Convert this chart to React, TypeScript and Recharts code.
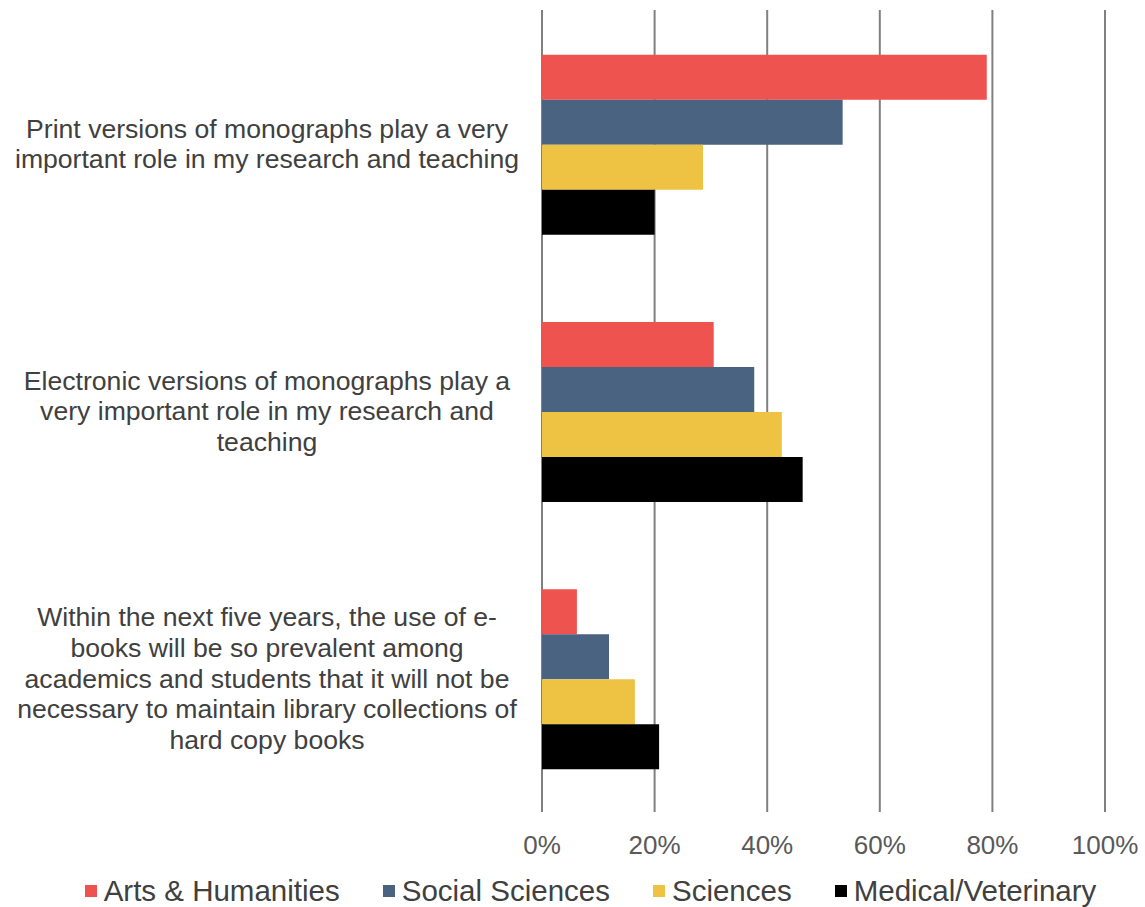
import React from "react";
import { BarChart, Bar, XAxis, YAxis, CartesianGrid, Legend } from "recharts";

const categories: string[][] = [
  ["Print versions of monographs play a very", "important role in my research and teaching"],
  ["Electronic versions of monographs play a", "very important role in my research and", "teaching"],
  [
    "Within the next five years, the use of e-",
    "books will be so prevalent among",
    "academics and students that it will not be",
    "necessary to maintain library collections of",
    "hard copy books",
  ],
];
const artsHumanities = [0.79, 0.305, 0.062];
const socialSciences = [0.534, 0.377, 0.119];
const sciences = [0.286, 0.426, 0.165];
const medicalVeterinary = [0.2, 0.463, 0.208];
const xTicks = [0, 0.2, 0.4, 0.6, 0.8, 1];

const seriesNames = ["Arts & Humanities", "Social Sciences", "Sciences", "Medical/Veterinary"];
const seriesColors = ["#EF5350", "#4A6381", "#EEC344", "#000000"];

const data = categories.map((c, i) => ({
  key: String(i),
  a: artsHumanities[i],
  s: socialSciences[i],
  sc: sciences[i],
  m: medicalVeterinary[i],
}));

const TEXT = "#595959";
const FONT = "'Liberation Sans', Arial, sans-serif";

const YTick = (props: any) => {
  const { y, payload } = props;
  const lines = categories[Number(payload.value)];
  const lh = 30.7;
  const start = y - ((lines.length - 1) * lh) / 2;
  return (
    <text x={267} y={start} textAnchor="middle" fill="#404040" fontSize={26.6} fontFamily={FONT}>
      {lines.map((l, i) => (
        <tspan key={i} x={267} y={start + i * lh} dy="0.35em">
          {l}
        </tspan>
      ))}
    </text>
  );
};

const LegendContent = () => (
  <div
    style={{
      display: "flex",
      justifyContent: "center",
      alignItems: "center",
      fontFamily: FONT,
      fontSize: 29.5,
      color: "#404040",
      paddingLeft: 76,
      height: 57,
    }}
  >
    {seriesNames.map((n, i) => (
      <div key={n} style={{ display: "flex", alignItems: "center", marginRight: i < 3 ? 43 : 0 }}>
        <div style={{ width: 12, height: 12, background: seriesColors[i], marginRight: 7 }} />
        <span>{n}</span>
      </div>
    ))}
  </div>
);

export default function App() {
  return (
    <div style={{ position: "absolute", left: 0, top: 0, width: 1145, height: 907, background: "#fff" }}>
      <BarChart
        width={1145}
        height={907}
        data={data}
        layout="vertical"
        margin={{ top: 10, right: 40, bottom: 0, left: 0 }}
        barCategoryGap="16.7%"
        barGap={0}
      >
        <CartesianGrid horizontal={false} vertical stroke="#808080" strokeWidth={2} />
        <XAxis
          type="number"
          domain={[0, 1]}
          ticks={xTicks}
          tickFormatter={(v: number) => `${Math.round(v * 100)}%`}
          axisLine={false}
          tickLine={false}
          height={50}
          tickMargin={18}
          tick={{ fill: TEXT, fontSize: 26, fontFamily: FONT }}
          interval={0}
        />
        <YAxis
          type="category"
          dataKey="key"
          width={542}
          axisLine={false}
          tickLine={false}
          tick={<YTick />}
          interval={0}
        />
        <Legend verticalAlign="bottom" height={45} content={<LegendContent />} />
        <Bar dataKey="a" name={seriesNames[0]} fill={seriesColors[0]} isAnimationActive={false} />
        <Bar dataKey="s" name={seriesNames[1]} fill={seriesColors[1]} isAnimationActive={false} />
        <Bar dataKey="sc" name={seriesNames[2]} fill={seriesColors[2]} isAnimationActive={false} />
        <Bar dataKey="m" name={seriesNames[3]} fill={seriesColors[3]} isAnimationActive={false} />
      </BarChart>
    </div>
  );
}
